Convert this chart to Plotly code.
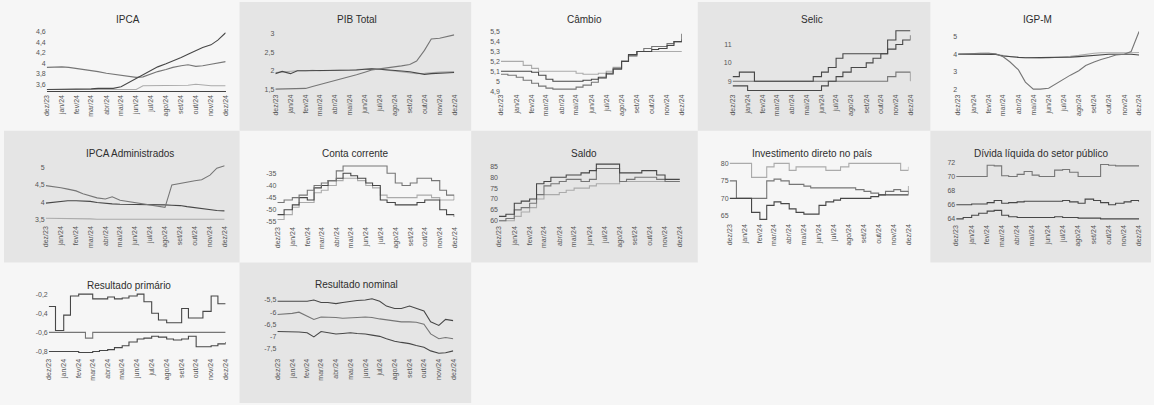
import plotly.graph_objects as go
import pandas as pd

W, H = 1154, 405

dates = pd.date_range("2023-12-01", "2024-12-01", freq="SMS")
month_ticks = pd.date_range("2023-12-01", "2024-12-01", freq="MS")
month_labels = ["dez/23", "jan/24", "fev/24", "mar/24", "abr/24", "mai/24", "jun/24",
                "jul/24", "ago/24", "set/24", "out/24", "nov/24", "dez/24"]

# ---- IPCA
ipca_a = [3.92,3.93,3.93,3.92,3.90,3.88,3.86,3.84,3.81,3.79,3.77,3.75,3.73,3.74,3.80,3.84,3.88,3.92,3.95,3.97,3.94,3.95,3.98,4.00,4.03]
ipca_b = [3.50,3.50,3.50,3.50,3.50,3.50,3.51,3.52,3.52,3.52,3.55,3.62,3.70,3.78,3.86,3.93,3.99,4.04,4.11,4.17,4.24,4.30,4.35,4.44,4.58]
ipca_c = [3.50,3.50,3.50,3.50,3.50,3.50,3.50,3.50,3.50,3.50,3.50,3.50,3.50,3.57,3.57,3.57,3.57,3.57,3.57,3.58,3.60,3.58,3.57,3.57,3.57]
ipca_ticks = [3.6, 3.8, 4.0, 4.2, 4.4, 4.6]
ipca_labels = ["3,6", "3,8", "4", "4,2", "4,4", "4,6"]

# ---- PIB Total
pib_a = [1.92,1.98,1.92,2.00,2.00,2.00,2.00,2.00,2.00,2.01,2.01,2.02,2.04,2.05,2.04,2.03,2.02,1.99,1.97,1.93,1.90,1.92,1.93,1.94,1.95]
pib_b = [1.50,1.50,1.50,1.50,1.52,1.57,1.62,1.68,1.74,1.79,1.84,1.89,1.96,2.02,2.05,2.07,2.10,2.13,2.17,2.26,2.55,2.86,2.88,2.92,2.97]
pib_c = [1.95,1.97,1.98,2.00,2.00,2.01,2.00,2.00,2.00,2.00,2.02,2.03,2.05,2.05,2.04,2.02,2.00,1.98,1.95,1.92,1.93,1.95,1.96,1.97,1.98]
pib_ticks = [1.5, 2.0, 2.5, 3.0]
pib_labels = ["1,5", "2", "2,5", "3"]

# ---- Câmbio
cambio_a = [5.07,5.06,5.04,5.01,4.98,4.95,4.93,4.92,4.92,4.92,4.94,4.96,4.99,5.03,5.07,5.13,5.20,5.26,5.30,5.33,5.35,5.35,5.38,5.40,5.42]
cambio_b = [5.10,5.10,5.10,5.10,5.09,5.06,5.02,5.00,5.00,5.00,5.00,5.01,5.02,5.04,5.08,5.12,5.20,5.27,5.30,5.30,5.32,5.33,5.36,5.40,5.48]
cambio_c = [5.20,5.20,5.20,5.16,5.13,5.10,5.10,5.10,5.10,5.10,5.08,5.07,5.07,5.08,5.10,5.14,5.20,5.25,5.30,5.30,5.30,5.30,5.30,5.30,5.30]
cambio_ticks = [4.9, 5.0, 5.1, 5.2, 5.3, 5.4, 5.5]
cambio_labels = ["4,9", "5", "5,1", "5,2", "5,3", "5,4", "5,5"]

# ---- Selic
selic_a = [9.25,9.50,9.50,9.00,9.00,9.00,9.00,9.00,9.00,9.00,9.00,9.25,9.50,9.75,10.25,10.50,10.50,10.50,10.50,10.50,10.50,11.25,11.75,11.75,11.75]
selic_b = [8.75,8.75,8.50,8.50,8.50,8.50,8.50,8.50,8.50,8.50,8.50,8.50,8.75,9.00,9.25,9.50,9.75,9.75,10.00,10.25,10.50,10.75,11.00,11.25,11.50]
selic_c = [9.00,9.00,9.00,9.00,9.00,9.00,9.00,9.00,9.00,9.00,9.00,9.00,9.00,9.00,9.00,9.00,9.00,9.00,9.00,9.00,9.00,9.25,9.50,9.50,9.00]
selic_ticks = [9, 10, 11]
selic_labels = ["9", "10", "11"]

# ---- IGP-M
igpm_a = [4.00,4.00,4.00,4.00,4.00,3.98,3.90,3.85,3.82,3.80,3.80,3.80,3.80,3.80,3.81,3.83,3.86,3.90,3.94,3.97,4.00,4.00,4.00,4.00,3.95]
igpm_b = [4.00,4.02,4.05,4.05,4.05,4.02,3.85,3.55,3.10,2.40,2.00,2.00,2.05,2.30,2.55,2.80,3.05,3.35,3.55,3.70,3.82,3.95,4.00,4.15,5.30]
igpm_c = [4.02,4.03,4.05,4.06,4.05,4.00,3.92,3.86,3.82,3.80,3.78,3.77,3.78,3.80,3.83,3.88,3.93,4.00,4.05,4.08,4.08,4.06,4.05,4.08,4.10]
igpm_ticks = [2, 3, 4, 5]
igpm_labels = ["2", "3", "4", "5"]

# ---- IPCA Administrados
adm_a = [4.48,4.46,4.42,4.38,4.33,4.25,4.18,4.13,4.10,4.16,4.06,4.03,4.00,3.97,3.94,3.90,3.86,4.50,4.55,4.57,4.62,4.65,4.78,4.98,5.05]
adm_b = [3.98,4.00,4.03,4.05,4.05,4.05,4.03,4.00,3.97,3.96,3.95,3.95,3.95,3.95,3.95,3.94,3.93,3.92,3.91,3.88,3.85,3.83,3.80,3.77,3.76]
adm_c = [3.55,3.55,3.54,3.54,3.53,3.53,3.53,3.52,3.52,3.52,3.52,3.52,3.52,3.52,3.52,3.52,3.52,3.52,3.52,3.52,3.52,3.52,3.52,3.52,3.52]
adm_ticks = [3.5, 4.0, 4.5, 5.0]
adm_labels = ["3,5", "4", "4,5", "5"]

# ---- Conta corrente
cc_a = [-47,-46,-45,-44,-42,-40,-39,-38,-34,-32,-32,-32,-32,-32,-32,-35,-39,-40,-39,-37,-37,-38,-42,-44,-46]
cc_b = [-52,-50,-48,-45,-46,-41,-40,-38,-37,-35,-36,-37,-39,-40,-46,-47,-48,-48,-48,-47,-46,-46,-50,-52,-53]
cc_c = [-54,-52,-49,-47,-47,-43,-42,-40,-38,-37,-37,-38,-40,-41,-44,-45,-45,-45,-45,-44,-44,-45,-46,-46,-46]
cc_ticks = [-55, -50, -45, -40, -35]
cc_labels = ["-55", "-50", "-45", "-40", "-35"]

# ---- Saldo
saldo_a = [62,63,68,69,70,77,78,80,80,81,81,82,83,86,86,86,82,82,82,83,83,81,79,79,79]
saldo_b = [60,61,65,66,68,72,76,77,78,79,79,78,79,84,84,84,78,79,80,80,80,79,78,78,78]
saldo_c = [60,60,62,64,66,70,72,72,73,74,75,75,76,77,77,77,78,78,78,78,78,78,78,78,78]
saldo_ticks = [60, 65, 70, 75, 80, 85]
saldo_labels = ["60", "65", "70", "75", "80", "85"]

# ---- Investimento direto no país
idp_a = [80,80,80,76,76,79,80,80,78,79,79,79,79,78,78,79,80,80,80,80,80,80,80,78,79]
idp_b = [75,70,70,70,70,75,75.5,75,74,74,73.5,73,73,73,73,73,73,72.5,72,71.5,71,72,72.5,72,73.5]
idp_c = [70,70,70,66,64,68,69,68.5,67,66,65.5,65.5,68,69,69.5,70,70,70,70,70.5,71,71,71,71,72]
idp_ticks = [65, 70, 75, 80]
idp_labels = ["65", "70", "75", "80"]

# ---- Dívida líquida do setor público
div_a = [70,70,70,70,71.6,71.5,70.1,70,70.3,70.7,70.2,70,70,70.9,71,70.6,70,70,70,71.7,71.6,71.5,71.5,71.5,71.5]
div_b = [66,66,66.1,66.1,66.3,66.6,66.2,66.3,66.4,66.5,66.5,66.5,66.5,66.5,66.6,66.4,66.2,66.8,66.6,66.3,66,66.2,66.4,66.6,66.4]
div_c = [64,64.2,64.5,64.8,65.1,65.2,64.5,64.3,64.2,64.2,64.2,64.2,64.2,64.3,64.2,64.2,64.1,64.1,64.1,64,64,64,64,64,64]
div_ticks = [64, 66, 68, 70, 72]
div_labels = ["64", "66", "68", "70", "72"]

# ---- Resultado primário
prim_a = [-0.33,-0.58,-0.42,-0.22,-0.20,-0.20,-0.25,-0.25,-0.23,-0.25,-0.24,-0.22,-0.20,-0.28,-0.40,-0.47,-0.50,-0.50,-0.35,-0.45,-0.45,-0.38,-0.22,-0.30,-0.30]
prim_b = [-0.60,-0.60,-0.60,-0.60,-0.60,-0.66,-0.60,-0.60,-0.60,-0.60,-0.60,-0.60,-0.60,-0.60,-0.60,-0.60,-0.60,-0.60,-0.60,-0.60,-0.60,-0.60,-0.60,-0.60,-0.60]
prim_c = [-0.80,-0.80,-0.80,-0.80,-0.81,-0.81,-0.80,-0.79,-0.78,-0.76,-0.74,-0.70,-0.67,-0.66,-0.64,-0.65,-0.67,-0.68,-0.67,-0.64,-0.75,-0.75,-0.74,-0.72,-0.70]
prim_ticks = [-0.8, -0.6, -0.4, -0.2]
prim_labels = ["-0,8", "-0,6", "-0,4", "-0,2"]

# ---- Resultado nominal
nom_a = [-5.55,-5.55,-5.55,-5.55,-5.55,-5.50,-5.60,-5.60,-5.65,-5.60,-5.55,-5.52,-5.50,-5.45,-5.55,-5.75,-5.85,-5.85,-5.75,-5.85,-5.95,-6.40,-6.55,-6.30,-6.35]
nom_b = [-6.10,-6.08,-6.05,-6.00,-6.15,-6.30,-6.20,-6.20,-6.22,-6.25,-6.25,-6.22,-6.20,-6.22,-6.28,-6.32,-6.38,-6.40,-6.40,-6.42,-6.50,-6.90,-7.10,-7.05,-7.10]
nom_c = [-6.80,-6.80,-6.82,-6.82,-6.85,-7.02,-6.80,-6.85,-6.90,-6.88,-6.85,-6.88,-6.90,-6.95,-7.00,-7.10,-7.20,-7.25,-7.30,-7.38,-7.45,-7.60,-7.70,-7.68,-7.60]
nom_ticks = [-7.5, -7.0, -6.5, -6.0, -5.5]
nom_labels = ["-7,5", "-7", "-6,5", "-6", "-5,5"]

DARK, MID, LIGHT = "#474747", "#767676", "#ababab"

# panel: title, series(with colors), y range, ticks, plot box px (x0,x1,ytop,ybot), title pos px, shape
panels = [
    ("IPCA", [(ipca_c, LIGHT), (ipca_a, MID), (ipca_b, DARK)], [3.468, 4.657], ipca_ticks, ipca_labels, (43, 223, 27, 90), (125, 18), "linear"),
    ("PIB Total", [(pib_c, LIGHT), (pib_a, DARK), (pib_b, MID)], [1.42, 3.11], pib_ticks, pib_labels, (273, 453, 28, 91), (355, 18), "linear"),
    ("Câmbio", [(cambio_c, LIGHT), (cambio_a, MID), (cambio_b, DARK)], [4.89, 5.52], cambio_ticks, cambio_labels, (500, 682, 28, 91), (584, 18), "hv"),
    ("Selic", [(selic_c, MID), (selic_a, DARK), (selic_b, DARK)], [8.41, 11.86], selic_ticks, selic_labels, (733, 912, 27, 91), (813, 18), "hv"),
    ("IGP-M", [(igpm_c, LIGHT), (igpm_a, DARK), (igpm_b, MID)], [1.83, 5.40], igpm_ticks, igpm_labels, (960, 1142, 28, 91), (1040, 18), "linear"),
    ("IPCA Administrados", [(adm_c, LIGHT), (adm_b, DARK), (adm_a, MID)], [3.39, 5.20], adm_ticks, adm_labels, (42, 222, 160, 224), (127, 153), "linear"),
    ("Conta corrente", [(cc_c, LIGHT), (cc_b, DARK), (cc_a, MID)], [-56.2, -30.5], cc_ticks, cc_labels, (275, 453, 162, 225), (354, 153), "hv"),
    ("Saldo", [(saldo_c, LIGHT), (saldo_b, MID), (saldo_a, DARK)], [58.6, 87.7], saldo_ticks, saldo_labels, (498, 680, 160, 224), (584, 153), "hv"),
    ("Investimento direto no país", [(idp_a, LIGHT), (idp_b, MID), (idp_c, DARK)], [63.3, 81.4], idp_ticks, idp_labels, (730, 910, 158, 222), (813, 153), "hv"),
    ("Dívida líquida do setor público", [(div_c, DARK), (div_b, DARK), (div_a, MID)], [63.44, 72.56], div_ticks, div_labels, (958, 1142, 158, 223), (1043, 153), "hv"),
    ("Resultado primário", [(prim_b, MID), (prim_c, DARK), (prim_a, DARK)], [-0.852, -0.148], prim_ticks, prim_labels, (45, 223, 290, 358), (126, 286), "hv"),
    ("Resultado nominal", [(nom_c, DARK), (nom_b, MID), (nom_a, DARK)], [-7.83, -5.255], nom_ticks, nom_labels, (275, 452, 295, 358), (355, 285), "linear"),
]

fig = go.Figure()
layout = dict(
    width=W, height=H, margin=dict(l=0, r=0, t=0, b=0),
    paper_bgcolor="#f6f6f6", plot_bgcolor="rgba(0,0,0,0)",
    showlegend=False, font=dict(family="Liberation Sans, Arial, sans-serif", color="#444"),
    annotations=[], shapes=[],
)

# scanned page tone: alternating gray panels
cols = [(0, 237), (237, 470), (470, 698), (698, 932), (932, 1154)]
rows = [(0, 130), (130, 263), (263, 405)]
gray_cells = [(1, 0), (3, 0), (0, 1), (2, 1), (4, 1), (1, 2)]
for c, r in gray_cells:
    x0, x1 = cols[c]
    y0, y1 = rows[r]
    layout["shapes"].append(dict(type="rect", xref="paper", yref="paper", layer="below",
                                 x0=x0 / W, x1=x1 / W, y0=1 - y1 / H, y1=1 - y0 / H,
                                 fillcolor="#e5e5e5", line=dict(width=0)))

for k, (title, series, yr, tv, tt, box, tpos, shape) in enumerate(panels, start=1):
    xa = "x" if k == 1 else f"x{k}"
    ya = "y" if k == 1 else f"y{k}"
    for vals, col in series:
        fig.add_trace(go.Scatter(x=dates, y=vals, mode="lines", xaxis=xa, yaxis=ya,
                                 line=dict(color=col, width=1.1, shape=shape),
                                 hoverinfo="skip"))
    x0, x1, yt, yb = box
    xkey = "xaxis" if k == 1 else f"xaxis{k}"
    ykey = "yaxis" if k == 1 else f"yaxis{k}"
    layout[xkey] = dict(domain=[x0 / W, x1 / W], anchor=ya, type="date",
                        range=[dates[0], dates[-1]],
                        tickvals=month_ticks, ticktext=month_labels, tickangle=-90,
                        tickfont=dict(size=7, color="#555"), showgrid=False,
                        zeroline=False, showline=(k == 1), linecolor="#444", linewidth=1.2,
                        ticks="")
    layout[ykey] = dict(domain=[1 - yb / H, 1 - yt / H], anchor=xa, range=yr,
                        tickvals=tv, ticktext=tt, tickfont=dict(size=7, color="#555"),
                        showgrid=False, zeroline=False, showline=False, ticks="")
    layout["annotations"].append(dict(text=title, xref="paper", yref="paper",
                                      x=tpos[0] / W, y=1 - tpos[1] / H,
                                      xanchor="center", yanchor="middle", showarrow=False,
                                      font=dict(size=10, color="#2e2e2e")))

fig.update_layout(**layout)
fig.write_html("out.html", config={"displayModeBar": False},
               post_script="document.body.style.margin='0';document.body.style.overflow='hidden';")
